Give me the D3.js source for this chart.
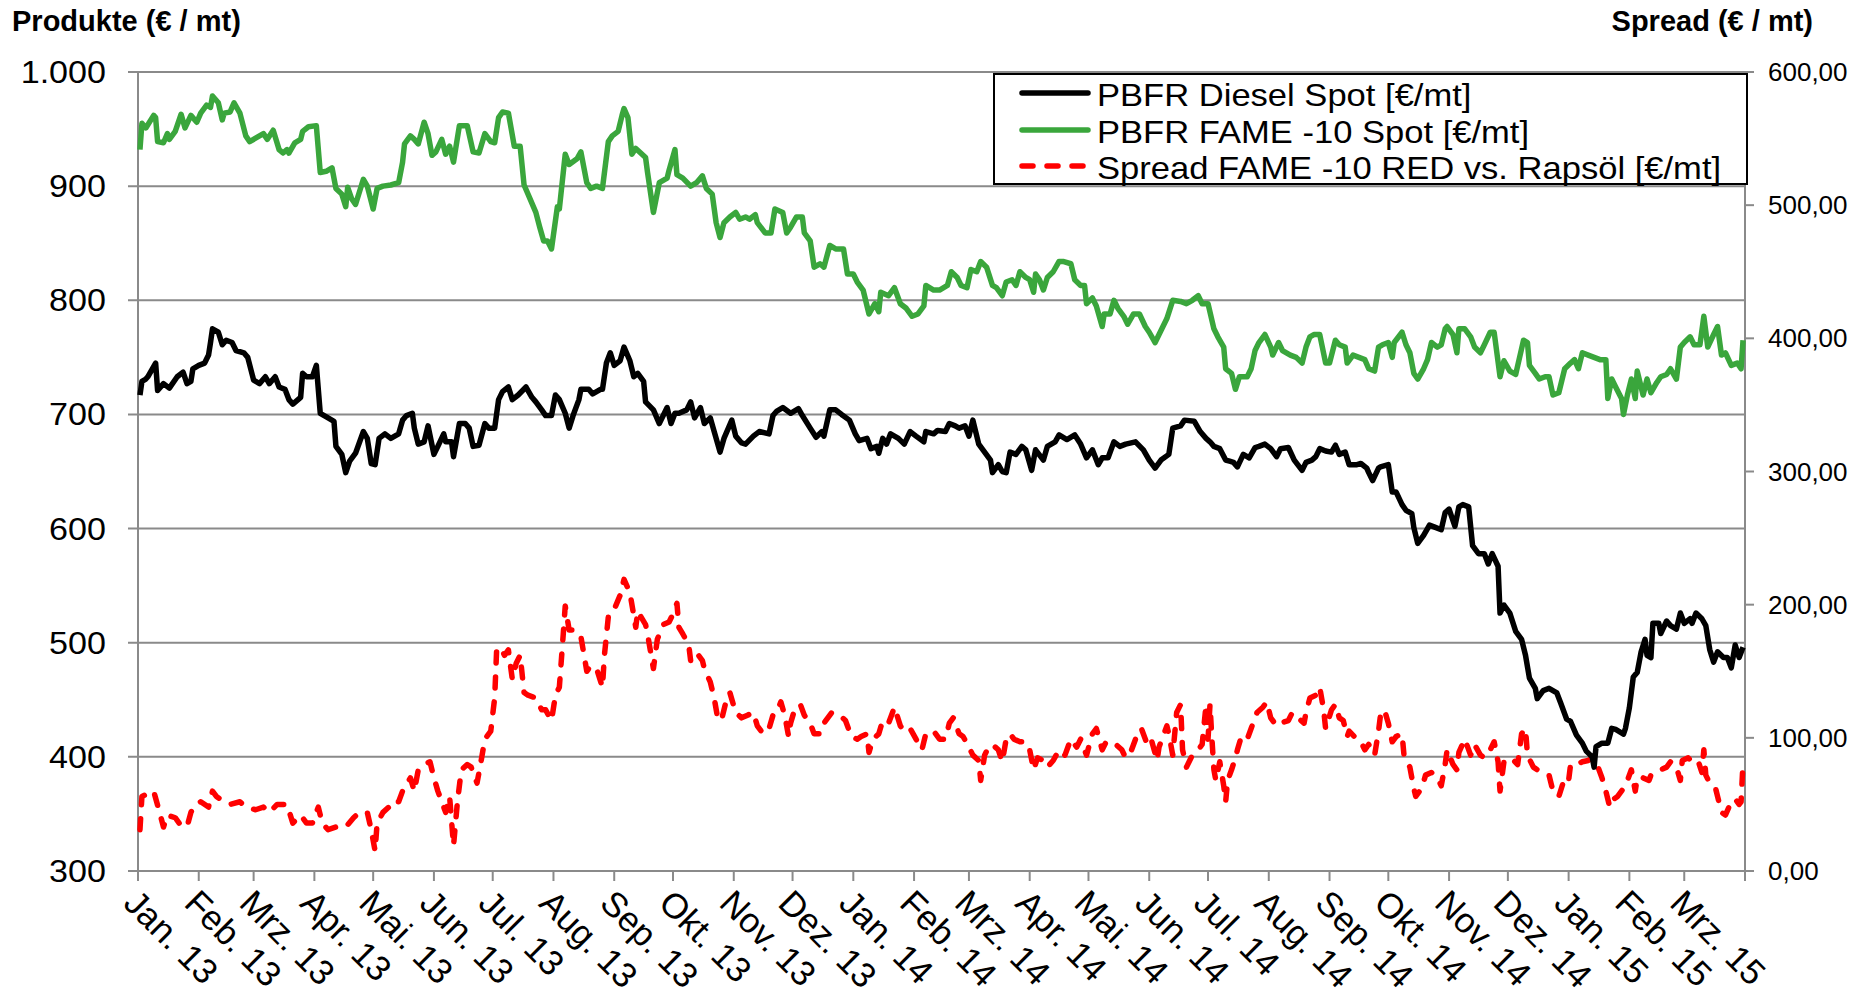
<!DOCTYPE html>
<html><head><meta charset="utf-8">
<script src="https://cdn.jsdelivr.net/npm/d3@7"></script>
<style>
html,body{margin:0;padding:0;background:#fff;}
svg{display:block;font-family:"Liberation Sans",Arial,sans-serif;}
</style></head>
<body><svg id="chart" width="1864" height="1000"></svg>
<script>
// ---- data (days since 1 Jan 2013) ----
const monthLabels = ["Jan.","Feb.","Mrz.","Apr.","Mai.","Jun.","Jul.","Aug.","Sep.","Okt.","Nov.","Dez."];
const leftTicks = [300,400,500,600,700,800,900,1000];
const rightTicks = [0,100,200,300,400,500,600];
const seriesNames = ["PBFR Diesel Spot [€/mt]","PBFR FAME -10 Spot [€/mt]","Spread FAME -10 RED vs. Rapsöl [€/mt]"];

const fameDays = [1,2,4,8,9,10,13,15,16,19,22,24,27,30,32,35,37,38,41,43,44,47,49,52,55,57,60,64,66,69,72,74,76,77,80,83,84,87,91,93,96,99,101,104,106,107,109,111,115,117,120,122,125,129,133,135,136,139,141,143,146,148,150,152,155,157,159,161,164,168,171,174,177,180,182,184,186,189,192,195,197,200,203,205,207,209,211,214,215,218,220,224,226,229,231,234,237,240,242,245,247,248,250,252,254,259,260,263,266,270,271,274,275,278,282,285,288,290,293,295,297,299,302,305,307,310,312,315,316,320,323,325,329,331,333,336,339,340,343,345,348,350,353,356,360,362,365,367,370,373,376,378,379,383,386,389,392,395,398,401,402,406,409,413,415,418,420,423,425,428,430,433,436,438,441,443,446,448,450,453,455,457,458,460,462,464,467,470,472,476,478,481,483,484,487,489,492,493,496,498,500,503,505,508,511,514,516,519,521,525,528,532,535,538,541,543,546,549,551,554,555,558,560,562,566,568,570,572,575,578,579,582,584,588,591,594,596,598,600,603,606,608,611,613,616,617,620,623,626,628,631,633,635,638,640,641,645,647,649,651,653,656,658,660,663,665,667,668,671,673,674,677,680,682,685,687,690,692,695,697,700,703,707,709,710,713,715,718,720,722,725,728,731,733,735,737,740,743,746,749,750,752,754,757,758,760,762,764,765,768,770,772,775,777,780,782,785,787,789,792,794,797,799,801,804,806,808,810,813,816,818,819];
const fameValues = [932,955,951,962,960,939,938,946,941,948,963,951,962,956,964,971,969,979,973,958,964,965,973,964,944,939,942,946,941,949,932,929,932,929,938,941,948,952,953,912,913,916,898,893,882,899,889,884,906,900,880,898,900,901,903,921,937,944,941,937,956,946,927,930,941,928,935,921,953,953,930,929,946,939,938,960,965,964,935,935,901,889,877,864,852,852,845,882,880,928,919,924,930,903,898,900,898,939,944,948,962,968,960,928,933,925,912,877,903,907,914,932,910,907,900,903,909,898,893,868,855,868,873,877,871,873,871,875,868,859,859,880,877,859,864,873,873,859,852,829,832,829,848,845,845,823,823,816,809,788,797,790,807,804,811,797,793,786,788,795,813,809,809,813,825,820,813,811,827,825,834,829,813,811,804,816,818,813,825,820,818,807,823,818,809,820,825,834,834,832,818,813,813,797,802,795,777,788,788,800,793,786,779,788,788,777,772,763,770,784,800,799,797,800,804,797,797,775,768,759,740,736,722,733,733,740,756,763,770,759,752,763,756,752,750,745,759,768,770,770,745,745,765,761,759,745,752,750,748,740,738,759,761,763,750,763,772,761,754,736,731,740,748,763,759,761,775,777,770,754,775,775,768,759,754,761,772,772,733,747,738,735,765,763,743,736,731,733,733,717,719,740,745,748,740,754,752,750,748,748,714,731,724,714,700,717,731,714,738,717,731,719,728,733,735,740,731,759,763,768,761,761,786,759,770,777,752,754,743,745,740,765];

const dieselDays = [1,2,4,5,9,10,13,16,20,23,25,27,28,31,34,36,37,38,41,43,45,48,50,54,56,59,62,65,67,70,72,75,77,79,83,84,86,89,91,93,97,100,101,104,106,108,111,115,117,119,121,123,126,129,133,135,137,140,141,143,146,148,151,153,156,157,160,161,164,167,169,171,174,177,179,182,184,186,189,191,194,198,201,203,206,208,211,213,215,218,220,222,225,226,230,232,236,237,239,241,243,246,248,251,253,255,258,259,263,266,270,272,274,276,280,282,284,287,289,292,294,297,299,303,305,308,310,314,317,322,324,326,329,333,337,339,343,346,349,350,353,356,359,363,366,368,372,374,377,378,380,382,384,388,391,394,397,401,402,406,408,412,414,417,419,422,424,426,429,432,435,436,439,441,443,445,448,451,453,456,458,462,464,468,470,474,478,481,484,487,490,492,495,498,501,504,509,513,516,519,522,526,528,532,534,539,542,545,547,549,552,555,557,559,561,564,567,570,572,575,578,581,583,587,590,594,596,599,601,603,606,609,611,613,616,618,622,624,627,628,630,633,634,638,640,642,645,647,650,651,653,656,659,662,665,667,669,672,674,676,679,681,684,687,689,691,694,695,697,700,703,706,708,710,713,714,717,720,724,726,729,731,734,737,739,742,743,744,747,750,752,754,758,759,761,763,765,767,769,770,772,773,776,777,780,782,785,787,789,792,793,795,798,800,802,804,806,809,811,813,815,817,819];
const dieselValues = [717,729,731,733,745,721,727,723,733,737,727,729,740,743,745,752,763,775,772,761,765,763,756,754,750,730,727,733,727,733,724,722,713,709,715,736,733,733,743,701,697,694,672,665,649,659,666,685,679,657,656,679,683,679,683,695,699,701,688,674,676,690,665,672,683,676,676,663,692,692,688,672,673,692,688,688,713,720,724,713,717,724,715,711,704,699,699,717,713,701,688,699,713,722,722,718,722,722,745,754,743,747,759,747,733,736,729,711,704,692,706,692,701,701,704,711,697,706,692,697,685,667,679,695,681,675,674,681,685,683,699,703,706,701,705,699,688,680,685,681,704,704,700,695,683,677,679,670,672,666,679,674,683,679,674,685,681,676,685,683,686,685,692,690,688,690,681,695,674,667,660,649,656,650,649,667,665,672,669,651,669,660,672,676,682,678,682,674,662,669,656,662,662,676,672,674,676,669,660,653,660,665,688,690,695,694,685,679,676,672,670,660,659,658,654,665,662,671,672,674,670,663,670,671,660,651,658,660,663,670,668,667,673,665,667,656,656,657,653,649,642,653,654,656,632,632,621,616,613,601,587,594,603,601,599,614,617,602,619,621,619,585,578,578,569,578,567,526,533,526,510,503,489,469,460,451,458,460,456,447,433,431,419,412,405,400,391,409,412,412,425,424,420,425,443,470,474,492,503,489,487,517,517,508,519,515,512,526,517,521,517,526,521,515,494,483,492,487,487,478,498,487,496];

const spreadDays = [1,2,8,11,13,15,19,21,25,27,29,32,36,38,40,44,47,52,55,60,64,67,71,76,79,83,86,89,92,94,97,101,106,110,113,117,119,121,122,125,128,129,133,135,139,141,143,146,149,151,153,157,159,161,163,165,168,170,173,175,177,180,182,183,185,187,189,191,193,195,197,199,203,206,208,211,213,215,217,218,220,223,226,229,231,234,237,238,240,242,246,248,251,254,255,259,260,263,265,268,271,273,275,276,278,281,282,285,288,289,292,294,296,298,300,302,305,308,311,314,316,319,322,324,326,328,330,332,333,335,338,340,343,345,348,350,354,358,361,364,367,369,372,373,375,378,380,383,386,389,391,394,397,400,402,406,409,412,414,416,419,421,424,426,429,430,432,434,436,439,441,443,445,447,450,453,455,457,459,462,464,467,470,473,476,479,481,484,487,489,492,494,497,499,502,504,507,509,512,515,517,520,521,523,525,526,528,530,532,533,535,538,540,543,545,546,547,548,549,550,552,554,555,556,558,560,561,563,566,568,571,574,576,578,581,583,587,589,592,595,596,598,601,603,605,606,609,611,613,615,617,618,622,624,626,628,631,633,634,636,638,640,642,645,646,649,651,652,655,657,660,663,665,667,668,671,673,674,677,680,682,685,687,690,692,694,695,697,699,702,704,706,708,709,712,714,717,720,722,725,728,730,731,734,737,740,742,745,747,749,751,753,755,758,760,762,764,765,768,771,772,775,777,780,782,785,787,788,791,793,796,798,799,800,802,805,806,808,810,813,815,817,818,819];
const spreadValues = [31,56,60,44,33,42,40,36,33,44,50,52,48,60,56,52,50,52,48,46,48,44,50,50,36,42,36,36,48,36,31,33,33,40,44,44,31,15,36,44,48,52,52,60,70,60,76,80,82,70,60,44,56,19,52,76,80,78,66,82,99,105,130,166,168,162,166,144,156,162,134,132,130,121,121,113,132,138,178,199,181,181,176,150,154,152,138,162,191,193,207,219,209,183,195,185,178,152,174,185,187,193,201,183,178,170,158,164,158,152,142,130,113,115,127,134,119,115,117,119,109,103,107,117,119,127,117,101,111,121,125,117,111,103,103,111,119,117,113,101,99,101,103,89,99,103,113,111,123,109,105,107,99,91,103,105,99,99,111,115,103,101,93,87,83,68,87,93,95,91,82,99,103,99,97,97,91,76,85,83,78,83,91,87,99,93,99,87,103,107,91,97,95,95,91,85,91,99,107,95,99,83,93,101,109,103,87,119,125,91,78,87,89,95,125,99,125,99,76,68,82,64,52,68,76,85,91,101,99,107,119,123,127,115,109,111,113,119,115,111,119,130,132,138,121,107,121,125,115,113,101,105,99,97,91,95,87,105,117,121,111,97,101,103,87,78,62,56,62,72,74,70,64,80,91,80,76,89,99,87,95,87,85,91,97,82,60,82,80,83,80,103,107,87,78,76,74,72,60,56,70,68,80,80,82,83,85,78,70,60,48,54,56,62,68,76,60,70,70,68,72,74,76,78,82,78,68,83,85,82,83,74,91,72,66,62,56,44,42,52,54,50,52,82];

// ---- chart ----
const W = 1864, H = 1000;
const m = {left:138, right:1745, top:72, bottom:871};
const base = new Date(2013,0,1);
const toDate = d => d3.timeDay.offset(base, d);
const x = d3.scaleTime().domain([base, new Date(2015,3,1)]).range([m.left, m.right]);
const yL = d3.scaleLinear().domain([300,1000]).range([m.bottom, m.top]);
const yR = d3.scaleLinear().domain([0,600]).range([m.bottom, m.top]);
const de = d3.formatLocale({decimal:",", thousands:".", grouping:[3], currency:["","€"]});
const fmtL = de.format(",.0f"), fmtR = de.format(",.2f");

const svg = d3.select("#chart");
svg.append("rect").attr("width",W).attr("height",H).attr("fill","#fff");
const gridCol = "#8a8a8a";

// gridlines + left ticks
svg.append("g").selectAll("line").data(leftTicks).join("line")
  .attr("x1", m.left-10).attr("x2", m.right).attr("y1", d=>yL(d)).attr("y2", d=>yL(d))
  .attr("stroke", gridCol).attr("stroke-width", 2);
// left axis line
svg.append("line").attr("x1",m.left).attr("x2",m.left).attr("y1",m.top).attr("y2",m.bottom+10)
  .attr("stroke",gridCol).attr("stroke-width",2);
// right axis
svg.append("line").attr("x1",m.right).attr("x2",m.right).attr("y1",m.top).attr("y2",m.bottom+10)
  .attr("stroke",gridCol).attr("stroke-width",2);
svg.append("g").selectAll("line").data(rightTicks).join("line")
  .attr("x1", m.right).attr("x2", m.right+9).attr("y1", d=>yR(d)).attr("y2", d=>yR(d))
  .attr("stroke", gridCol).attr("stroke-width", 2);
// bottom ticks
const monthTicks = d3.timeMonth.range(base, d3.timeDay.offset(new Date(2015,3,1),1));
svg.append("g").selectAll("line").data(monthTicks).join("line")
  .attr("x1", d=>x(d)).attr("x2", d=>x(d)).attr("y1", m.bottom).attr("y2", m.bottom+10)
  .attr("stroke", gridCol).attr("stroke-width", 2);

// left labels
svg.append("g").selectAll("text").data(leftTicks).join("text")
  .attr("transform", d=>`translate(106,${yL(d)+11}) scale(1.1,1)`)
  .attr("text-anchor","end").attr("font-size",31).attr("fill","#000")
  .text(d=>fmtL(d));
// right labels
svg.append("g").selectAll("text").data(rightTicks).join("text")
  .attr("x", 1768).attr("y", d=>yR(d)+9).attr("font-size",26).attr("fill","#000")
  .text(d=>fmtR(d));
// x labels
svg.append("g").selectAll("text").data(monthTicks.filter(d=>d < new Date(2015,3,1))).join("text")
  .attr("transform", d=>`translate(${x(d)-16},${m.bottom+34}) rotate(45)`)
  .attr("font-size",35).attr("fill","#000")
  .text(d=>monthLabels[d.getMonth()] + " " + String(d.getFullYear()).slice(2));

// titles
svg.append("text").attr("x",12).attr("y",31).attr("font-size",29).attr("font-weight","bold").text("Produkte (€ / mt)");
svg.append("text").attr("x",1813).attr("y",31).attr("text-anchor","end").attr("font-size",29).attr("font-weight","bold").text("Spread (€ / mt)");

// series
const lineL = d3.line().x(d=>x(d.date)).y(d=>yL(d.v));
const lineR = d3.line().x(d=>x(d.date)).y(d=>yR(d.v));
const mk = (days, vals) => days.map((d,i)=>({date:toDate(d), v:vals[i]}));
const colors = ["#000000","#3aa63c","#ff0000"];

svg.append("path").datum(mk(spreadDays, spreadValues)).attr("d", lineR)
  .attr("fill","none").attr("stroke",colors[2]).attr("stroke-width",5.5)
  .attr("stroke-dasharray","11,14").attr("stroke-linecap","round").attr("stroke-linejoin","round");
svg.append("path").datum(mk(fameDays, fameValues)).attr("d", lineL)
  .attr("fill","none").attr("stroke",colors[1]).attr("stroke-width",5.5).attr("stroke-linejoin","round");
svg.append("path").datum(mk(dieselDays, dieselValues)).attr("d", lineL)
  .attr("fill","none").attr("stroke",colors[0]).attr("stroke-width",5.5).attr("stroke-linejoin","round");

// legend
const lg = svg.append("g");
lg.append("rect").attr("x",994).attr("y",74).attr("width",753).attr("height",110)
  .attr("fill","#fff").attr("stroke","#000").attr("stroke-width",2);
const rowsY = [93,130,166];
seriesNames.forEach((n,i)=>{
  const l = lg.append("line").attr("x1",1022).attr("x2",1088).attr("y1",rowsY[i]).attr("y2",rowsY[i])
    .attr("stroke",colors[i]).attr("stroke-width",5.5).attr("stroke-linecap","round");
  if(i===2) l.attr("stroke-dasharray","11,14");
  lg.append("text").attr("transform",`translate(1097,${rowsY[i]+13}) scale(1.08,1)`)
    .attr("font-size",32).attr("fill","#000").text(n);
});
</script></body></html>
